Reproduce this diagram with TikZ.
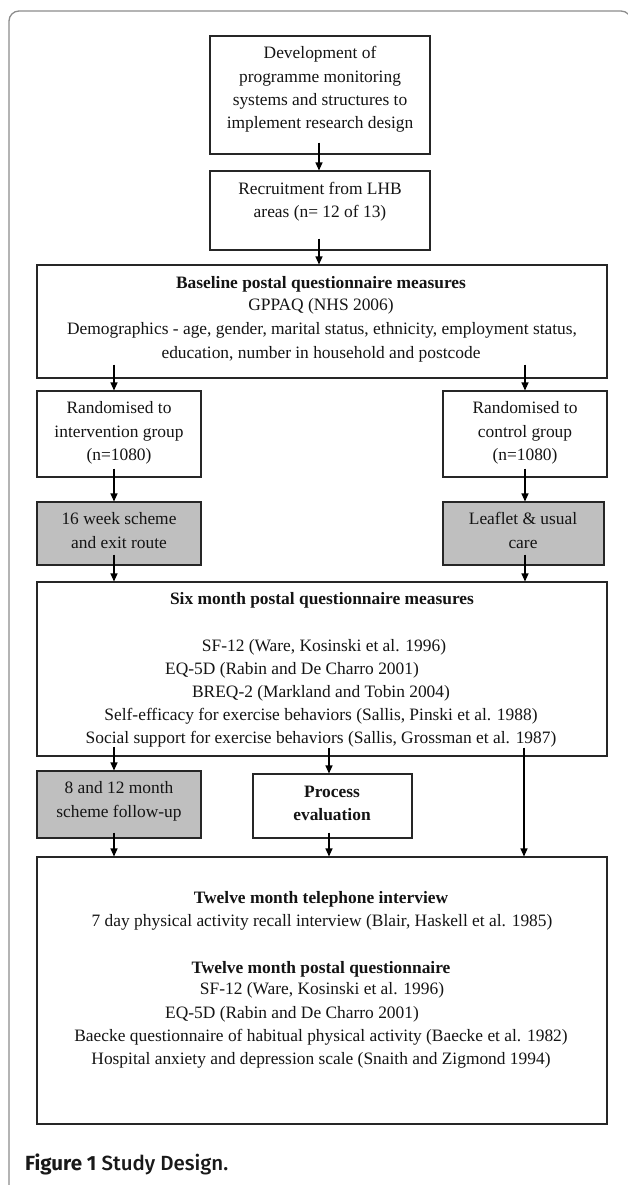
\documentclass[tikz,border=0pt]{standalone}
\usepackage{fontspec}
\setmainfont{Liberation Serif}
\newfontfamily\capfont{Fira Sans}
\newfontfamily\capmed{Fira Sans Medium}
\usetikzlibrary{arrows.meta}
\begin{document}
\begin{tikzpicture}[x=1bp,y=-1bp,
  box/.style={draw=black!85, line width=1.1bp, rectangle, inner sep=0pt},
  graybox/.style={box, fill=black!25},
  txt/.style={anchor=base, inner sep=0pt, text=black!92, font=\fontsize{17.4bp}{20bp}\selectfont},
  btxt/.style={anchor=base, inner sep=0pt, text=black!92, font=\fontsize{17.4bp}{20bp}\selectfont\bfseries},
  arr/.style={draw=black, line width=1.1bp, -{Triangle[width=7bp,length=8bp]}}
]
\useasboundingbox (0,0) rectangle (628,1185);
\fill[white] (0,0) rectangle (628,1185);
% outer frame
\begin{scope}
\clip (0,0) rectangle (628,1185);
\draw[black!45, line width=1.3bp, rounded corners=10bp] (9,1200) -- (9,11) -- (631,11) -- (631,1200);
\end{scope}

% boxes
\node[box, minimum width=220bp, minimum height=118bp] (b1) at (320,95) {};
\node[box, minimum width=220bp, minimum height=79bp] (b2) at (320,210.5) {};
\node[box, minimum width=570bp, minimum height=113bp] (b3) at (322,321.5) {};
\node[box, minimum width=164bp, minimum height=86bp] (r1) at (119,434) {};
\node[box, minimum width=164bp, minimum height=86bp] (r2) at (525,434) {};
\node[graybox, minimum width=164bp, minimum height=63bp] (g1) at (119,533.5) {};
\node[graybox, minimum width=161bp, minimum height=63bp] (g2) at (523.5,533.5) {};
\node[box, minimum width=570bp, minimum height=174bp] (b6) at (322,669) {};
\node[graybox, minimum width=164bp, minimum height=67bp] (g3) at (119,804.5) {};
\node[box, minimum width=159bp, minimum height=64bp] (pe) at (332.5,806) {};
\node[box, minimum width=570bp, minimum height=267bp] (b7) at (322,990.5) {};

% arrow columns
\coordinate (cM) at (319,0);
\coordinate (cL) at (114,0);
\coordinate (cR) at (525,0);
\coordinate (cP) at (329,0);
\coordinate (cQ) at (524,0);

\draw[arr] ([yshift=12bp]b1.south -| cM) -- (b2.north -| cM);
\draw[arr] ([yshift=12bp]b2.south -| cM) -- (b3.north -| cM);
\draw[arr] ([yshift=14bp]b3.south -| cL) -- (r1.north -| cL);
\draw[arr] ([yshift=14bp]b3.south -| cR) -- (r2.north -| cR);
\draw[arr] ([yshift=9bp]r1.south -| cL) -- (g1.north -| cL);
\draw[arr] ([yshift=9bp]r2.south -| cR) -- (g2.north -| cR);
\draw[arr] ([yshift=11bp]g1.south -| cL) -- (b6.north -| cL);
\draw[arr] ([yshift=11bp]g2.south -| cR) -- (b6.north -| cR);
\draw[arr] ([yshift=10bp]b6.south -| cL) -- (g3.north -| cL);
\draw[arr] ([yshift=9bp]b6.south -| cP) -- (pe.north -| cP);
\draw[arr] ([yshift=9bp]b6.south -| cQ) -- (b7.north -| cQ);
\draw[arr] ([yshift=6bp]g3.south -| cL) -- (b7.north -| cL);
\draw[arr] ([yshift=6bp]pe.south -| cP) -- (b7.north -| cP);

% texts box 1
\node[txt] (t1a) at (320,58) {Development of};
\node[txt] (t1b) at (320,82) {programme monitoring};
\node[txt] (t1c) at (320,105) {systems and structures to};
\node[txt] (t1d) at (320,128) {implement research design};
% box 2
\node[txt] (t2a) at (320,194) {Recruitment from LHB};
\node[txt] (t2b) at (320,217) {areas (n= 12 of 13)};
% box 3
\node[btxt] (t3a) at (321,288) {Baseline postal questionnaire measures};
\node[txt] (t3b) at (321,310) {GPPAQ (NHS 2006)};
\node[txt] (t3c) at (322,334) {Demographics - age, gender, marital status, ethnicity, employment status,};
\node[txt] (t3d) at (321,358) {education, number in household and postcode};
% randomised
\node[txt] (tr1a) at (119,413) {Randomised to};
\node[txt] (tr1b) at (119,437) {intervention group};
\node[txt] (tr1c) at (119,460) {(n=1080)};
\node[txt] (tr2a) at (525,413) {Randomised to};
\node[txt] (tr2b) at (525,437) {control group};
\node[txt] (tr2c) at (525,460) {(n=1080)};
% gray
\node[txt] (tg1a) at (119,524) {16 week scheme};
\node[txt] (tg1b) at (119,548) {and exit route};
\node[txt] (tg2a) at (523,524) {Leaflet \& usual};
\node[txt] (tg2b) at (523,548) {care};
% six month
\node[btxt] (t6a) at (322,604) {Six month postal questionnaire measures};
\node[txt] (t6b) at (324,651) {SF-12 (Ware, Kosinski et al. 1996)};
\node[txt] (t6c) at (292,674) {EQ-5D (Rabin and De Charro 2001)};
\node[txt] (t6d) at (321,697) {BREQ-2 (Markland and Tobin 2004)};
\node[txt] (t6e) at (321,720) {Self-efficacy for exercise behaviors (Sallis, Pinski et al. 1988)};
\node[txt] (t6f) at (321,743) {Social support for exercise behaviors (Sallis, Grossman et al. 1987)};
% follow-up and process
\node[txt] (tg3a) at (119,793) {8 and 12 month};
\node[txt] (tg3b) at (119,817) {scheme follow-up};
\node[btxt] (tpa) at (332,797) {Process};
\node[btxt] (tpb) at (332,820) {evaluation};
% twelve month
\node[btxt] (t7a) at (321,903) {Twelve month telephone interview};
\node[txt] (t7b) at (322,926) {7 day physical activity recall interview (Blair, Haskell et al. 1985)};
\node[btxt] (t7c) at (321,973) {Twelve month postal questionnaire};
\node[txt] (t7d) at (322,994) {SF-12 (Ware, Kosinski et al. 1996)};
\node[txt] (t7e) at (292,1018) {EQ-5D (Rabin and De Charro 2001)};
\node[txt] (t7f) at (321,1041) {Baecke questionnaire of habitual physical activity (Baecke et al. 1982)};
\node[txt] (t7g) at (321,1064) {Hospital anxiety and depression scale (Snaith and Zigmond 1994)};
% caption
\node[anchor=base west, inner sep=0pt, text=black!90, font=\fontsize{20.5bp}{22bp}\selectfont] (cap) at (25,1170) {{\capfont\bfseries Figure 1} {\capmed\mdseries Study Design.}};
\end{tikzpicture}
\end{document}
